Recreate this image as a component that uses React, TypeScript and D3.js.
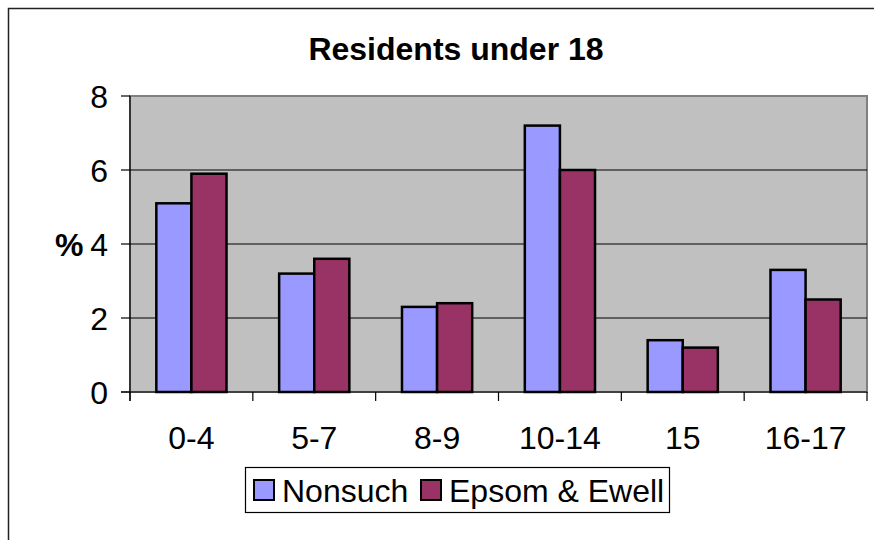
import { useMemo } from "react";
import * as d3 from "d3";

const categories = ["0-4", "5-7", "8-9", "10-14", "15", "16-17"];
const seriesNames = ["Nonsuch", "Epsom & Ewell"];
const nonsuch = [5.1, 3.2, 2.3, 7.2, 1.4, 3.3];
const epsomEwell = [5.9, 3.6, 2.4, 6.0, 1.2, 2.5];
const yTicks = [0, 2, 4, 6, 8];

const colors = ["#9999FF", "#993366"];

const WIDTH = 874;
const HEIGHT = 540;
const PLOT = { left: 130, top: 96, right: 867, bottom: 392 };
const FONT = "Arial, 'Liberation Sans', sans-serif";

export default function App() {
  const values = [nonsuch, epsomEwell];

  const x0 = useMemo(
    () => d3.scaleBand<string>().domain(categories).range([PLOT.left, PLOT.right]),
    []
  );
  const y = useMemo(
    () => d3.scaleLinear().domain([0, 8]).range([PLOT.bottom, PLOT.top]),
    []
  );
  // excel gap width 150%: two bars + 1.5 bar gap per category
  const barW = x0.bandwidth() / 3.5;
  const x1 = d3
    .scaleBand<string>()
    .domain(seriesNames)
    .range([barW * 0.75, barW * 2.75]);

  const bounds = categories.map((c) => x0(c)!).concat([PLOT.right]);

  return (
    <svg
      width={WIDTH}
      height={HEIGHT}
      style={{ position: "absolute", left: 0, top: 0, background: "#fff" }}
      fontFamily={FONT}
    >
      <rect x={8.5} y={8.5} width={900} height={600} fill="#fff" stroke="#222" strokeWidth={1.5} />

      <text x={456} y={60} textAnchor="middle" fontSize={32} fontWeight="bold">
        Residents under 18
      </text>

      <rect
        x={PLOT.left}
        y={PLOT.top}
        width={PLOT.right - PLOT.left}
        height={PLOT.bottom - PLOT.top}
        fill="#C0C0C0"
        stroke="#808080"
        strokeWidth={2}
      />

      {yTicks.slice(1, -1).map((t) => (
        <line key={t} x1={PLOT.left} x2={PLOT.right} y1={y(t)} y2={y(t)} stroke="#000" strokeWidth={1} />
      ))}

      {categories.map((c, i) =>
        seriesNames.map((s, j) => {
          const v = values[j][i];
          return (
            <rect
              key={c + s}
              x={x0(c)! + x1(s)!}
              y={y(v)}
              width={x1.bandwidth()}
              height={y(0) - y(v)}
              fill={colors[j]}
              stroke="#000"
              strokeWidth={2.5}
            />
          );
        })
      )}

      {/* axes */}
      <line x1={PLOT.left} x2={PLOT.left} y1={PLOT.top} y2={PLOT.bottom + 9} stroke="#000" strokeWidth={1.2} />
      <line x1={PLOT.left - 9} x2={PLOT.right} y1={PLOT.bottom} y2={PLOT.bottom} stroke="#000" strokeWidth={1.2} />
      {yTicks.map((t) => (
        <g key={t}>
          <line x1={PLOT.left - 9} x2={PLOT.left} y1={y(t)} y2={y(t)} stroke="#000" strokeWidth={1.2} />
          <text x={108} y={y(t)} dy="0.36em" textAnchor="end" fontSize={32}>
            {t}
          </text>
        </g>
      ))}
      {bounds.map((b, i) => (
        <line key={i} x1={b} x2={b} y1={PLOT.bottom} y2={PLOT.bottom + 9} stroke="#000" strokeWidth={1.2} />
      ))}
      {categories.map((c) => (
        <text key={c} x={x0(c)! + x0.bandwidth() / 2} y={449} textAnchor="middle" fontSize={32}>
          {c}
        </text>
      ))}

      <text x={55} y={y(4)} dy="0.36em" fontSize={32} fontWeight="bold">
        %
      </text>

      {/* legend */}
      <rect x={245.5} y={467.5} width={424} height={45} fill="#fff" stroke="#000" strokeWidth={1.2} />
      {seriesNames.map((s, j) => {
        const lx = j === 0 ? 254 : 421;
        return (
          <g key={s}>
            <rect x={lx} y={480} width={20} height={20} fill={colors[j]} stroke="#000" strokeWidth={2} />
            <text x={lx + 28} y={502} fontSize={32}>
              {s}
            </text>
          </g>
        );
      })}
    </svg>
  );
}
